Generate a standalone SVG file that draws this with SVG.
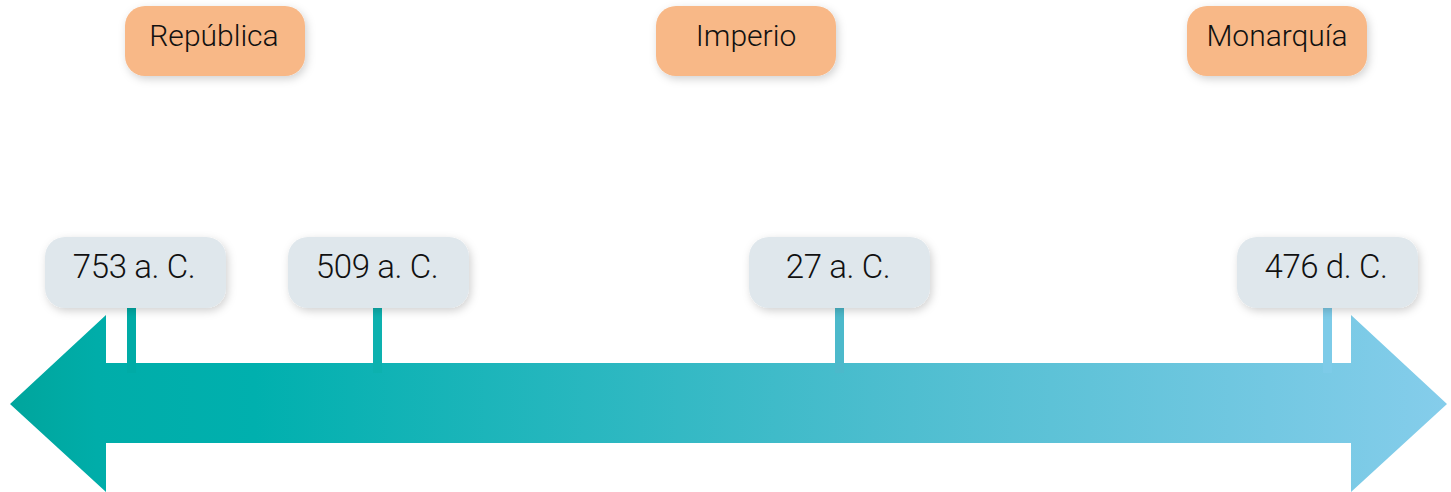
<svg xmlns="http://www.w3.org/2000/svg" width="1451" height="492" viewBox="0 0 1451 492">
<defs>
<linearGradient id="g" gradientUnits="userSpaceOnUse" x1="10" y1="0" x2="1447" y2="0">
<stop offset="0" stop-color="#00A59C"/>
<stop offset="0.06" stop-color="#00ADA9"/>
<stop offset="0.17" stop-color="#00B0AE"/>
<stop offset="0.6" stop-color="#4BBDCE"/>
<stop offset="1" stop-color="#85CDEB"/>
</linearGradient>
<filter id="sh" x="-20%" y="-30%" width="140%" height="170%">
<feDropShadow dx="2" dy="3" stdDeviation="4" flood-color="#000" flood-opacity="0.18"/>
</filter>
</defs>
<style>
.era{fill:#F8B887;filter:url(#sh)}
.date{fill:#DFE7EC;filter:url(#sh)}
text{font-family:Roboto,"Liberation Sans",sans-serif;fill:#111;text-anchor:middle;font-weight:300}
.t1{font-size:30px}
.t2{font-size:33px;letter-spacing:-0.4px}
</style>
<g id="connectors">
<path id="arrow" d="M10,404 L106,315 L106,363 L1351,363 L1351,315 L1447,404 L1351,492 L1351,443 L106,443 L106,492 Z" fill="url(#g)"/>
<rect x="127" y="306" width="9" height="67" fill="#00ABA6"/>
<rect x="373" y="306" width="9" height="67" fill="#0DB1AF"/>
<rect x="835" y="306" width="9" height="67" fill="#4CB9CB"/>
<rect x="1323" y="306" width="9" height="67" fill="#7DCBE8"/>
</g>
<g id="republica"><rect class="era" x="125" y="6" width="180" height="70" rx="20"/><text class="t1" x="214" y="46">República</text></g>
<g id="imperio"><rect class="era" x="656" y="6" width="180" height="70" rx="20"/><text class="t1" x="746" y="46">Imperio</text></g>
<g id="monarquia"><rect class="era" x="1187" y="6" width="180" height="70" rx="20"/><text class="t1" x="1277" y="46">Monarquía</text></g>
<g id="d753"><rect class="date" x="45" y="237" width="181" height="71" rx="20"/><text class="t2" x="134" y="278">753 a. C.</text></g>
<g id="d509"><rect class="date" x="288" y="237" width="181" height="71" rx="20"/><text class="t2" x="377" y="278">509 a. C.</text></g>
<g id="d27"><rect class="date" x="749" y="237" width="181" height="71" rx="20"/><text class="t2" x="838" y="278">27 a. C.</text></g>
<g id="d476"><rect class="date" x="1237" y="237" width="181" height="71" rx="20"/><text class="t2" x="1326" y="278">476 d. C.</text></g>
</svg>
